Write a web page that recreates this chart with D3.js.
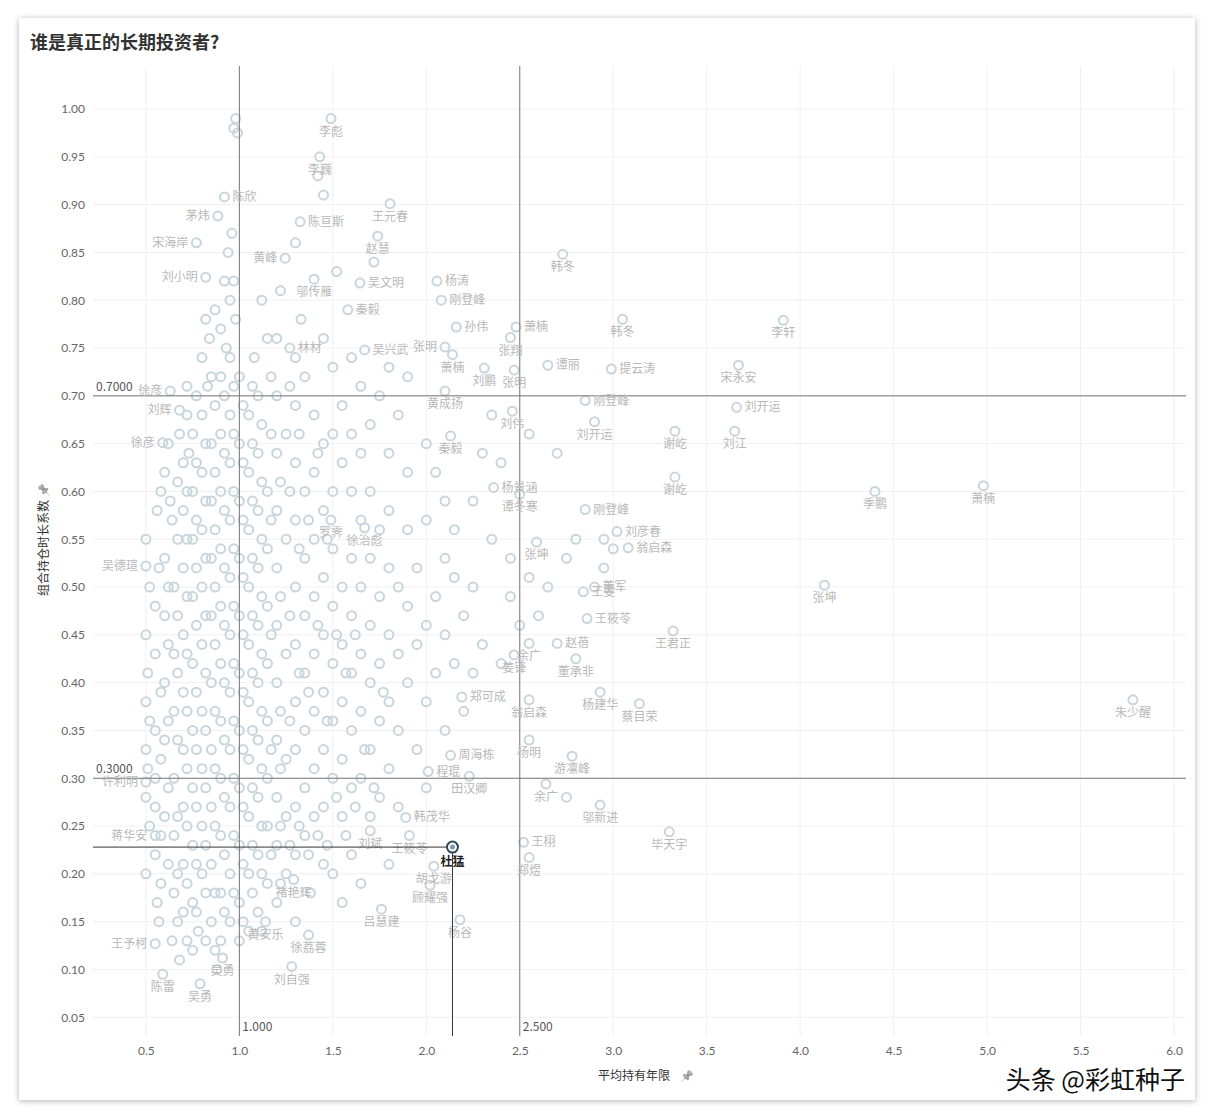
<!DOCTYPE html>
<html><head><meta charset="utf-8">
<script src="https://cdn.jsdelivr.net/npm/d3@7"></script>
<style>
body{margin:0;background:#fff;font-family:"Noto Sans CJK SC","Noto Sans",sans-serif;}
.pin{filter:grayscale(1);opacity:.6}
</style></head><body>
<svg id="c" width="1214" height="1120"></svg>
<script>
const names = ["李彪","李巍","陈欣","茅炜","宋海岸","刘小明","黄峰","陈亘斯","王元春","赵慧","邬传雁","吴文明","杨涛","刚登峰","秦毅","孙伟","林材","吴兴武","张明","萧楠","张翔","萧楠","韩冬","韩冬","李轩","提云涛","宋永安","刘开运","刘江","谢屹","谢屹","季鹏","萧楠","刘鹏","张明","谭丽","刚登峰","刘伟","黄成扬","刘开运","秦毅","杨景涵","谭冬寒","刚登峰","刘彦春","翁启森","张坤","张坤","王君正","王筱苓","王雯","董军","赵蓓","姜锋","余广","董承非","郑可成","杨建华","蔡目荣","翁启森","朱少醒","周海栋","杨明","游凛峰","程琨","田汉卿","余广","邬新进","韩茂华","王栩","毕天宇","郑煜","刘斌","王筱苓","胡戈游","顾耀强","杨谷","吕慧建","褚艳辉","黄安乐","徐荔蓉","刘自强","吴勇","吴勇","陈雷","王予柯","蒋华安","许利明","吴德瑄","徐彦","刘辉","徐彦","罗霁","徐治彪"];
const xs = [1.49,1.43,0.92,0.885,0.77,0.82,1.245,1.325,1.806,1.74,1.40,1.645,2.057,2.08,1.58,2.16,1.27,1.67,2.10,2.14,2.45,2.48,2.73,3.05,3.91,2.99,3.67,3.66,3.65,3.33,3.33,4.40,4.98,2.31,2.47,2.65,2.85,2.46,2.10,2.90,2.13,2.36,2.50,2.85,3.02,3.08,2.59,4.13,3.32,2.86,2.84,2.90,2.70,2.47,2.55,2.80,2.19,2.93,3.14,2.55,5.78,2.13,2.55,2.78,2.01,2.23,2.64,2.93,1.89,2.52,3.30,2.55,1.70,1.91,2.04,2.02,2.18,1.76,1.29,1.14,1.37,1.28,0.91,0.79,0.59,0.55,0.55,0.50,0.50,0.63,0.68,0.59,1.49,1.67];
const ys = [0.99,0.95,0.908,0.888,0.86,0.824,0.844,0.882,0.901,0.867,0.822,0.818,0.820,0.80,0.79,0.772,0.75,0.748,0.751,0.743,0.761,0.772,0.848,0.78,0.779,0.728,0.732,0.688,0.663,0.663,0.615,0.60,0.606,0.729,0.727,0.732,0.695,0.684,0.705,0.673,0.658,0.604,0.597,0.581,0.558,0.541,0.547,0.502,0.454,0.467,0.495,0.50,0.441,0.429,0.441,0.425,0.385,0.39,0.378,0.382,0.382,0.324,0.34,0.323,0.307,0.302,0.294,0.272,0.259,0.233,0.244,0.217,0.245,0.24,0.208,0.188,0.152,0.163,0.194,0.15,0.136,0.103,0.112,0.085,0.095,0.127,0.24,0.296,0.522,0.705,0.685,0.651,0.57,0.562];
const sides = ["b","b","r","l","l","l","l","r","b","b","b","r","r","r","r","r","r","r","l","b","b","r","b","b","b","r","b","r","b","b","b","b","b","b","b","r","r","b","b","b","b","r","b","r","r","r","b","b","b","r","r","r","r","b","b","b","r","b","b","b","b","r","b","b","r","b","b","b","r","r","b","b","b","b","b","b","b","b","b","b","b","b","b","b","b","l","l","l","l","l","l","l","b","b"];
const hiName = "杜猛", hiX = 2.14, hiY = 0.228;
const others = "0.5,0.2;0.52,0.25;0.5,0.28;0.51,0.31;0.5,0.33;0.52,0.36;0.5,0.38;0.51,0.41;0.5,0.45;0.52,0.5;0.5,0.55;0.56,0.58;0.58,0.6;0.6,0.62;0.55,0.3;0.57,0.15;0.56,0.17;0.55,0.22;0.58,0.19;0.6,0.26;0.6,0.34;0.6,0.4;0.6,0.47;0.6,0.53;0.62,0.65;0.64,0.57;0.65,0.5;0.65,0.43;0.65,0.37;0.65,0.3;0.65,0.24;0.65,0.18;0.64,0.13;0.68,0.11;0.7,0.16;0.7,0.21;0.7,0.27;0.7,0.33;0.7,0.39;0.7,0.45;0.7,0.52;0.7,0.58;0.7,0.63;0.72,0.68;0.72,0.71;0.75,0.66;0.75,0.6;0.75,0.55;0.75,0.49;0.75,0.42;0.75,0.35;0.75,0.29;0.75,0.23;0.75,0.17;0.75,0.12;0.78,0.14;0.8,0.2;0.8,0.25;0.8,0.31;0.8,0.37;0.8,0.44;0.8,0.5;0.8,0.56;0.8,0.62;0.8,0.68;0.8,0.74;0.82,0.78;0.85,0.72;0.85,0.65;0.85,0.59;0.85,0.53;0.85,0.47;0.85,0.4;0.85,0.33;0.85,0.27;0.85,0.21;0.85,0.15;0.88,0.1;0.9,0.13;0.9,0.18;0.9,0.24;0.9,0.3;0.9,0.36;0.9,0.42;0.9,0.48;0.9,0.54;0.9,0.6;0.9,0.66;0.9,0.72;0.9,0.77;0.92,0.82;0.94,0.85;0.95,0.8;0.95,0.74;0.95,0.68;0.95,0.63;0.95,0.57;0.95,0.51;0.95,0.45;0.95,0.39;0.95,0.33;0.95,0.27;0.95,0.2;0.95,0.15;0.97,0.98;0.98,0.99;0.99,0.975;0.96,0.87;0.98,0.78;1.0,0.72;1.0,0.65;1.0,0.59;1.0,0.53;1.0,0.47;1.0,0.41;1.0,0.35;1.0,0.29;1.0,0.23;1.0,0.17;1.0,0.13;1.05,0.14;1.05,0.2;1.05,0.26;1.05,0.32;1.05,0.38;1.05,0.44;1.05,0.5;1.05,0.56;1.05,0.62;1.05,0.68;1.08,0.74;1.1,0.7;1.1,0.64;1.1,0.58;1.1,0.52;1.1,0.46;1.1,0.4;1.1,0.34;1.1,0.28;1.1,0.22;1.1,0.16;1.12,0.8;1.15,0.76;1.15,0.6;1.15,0.54;1.15,0.48;1.15,0.42;1.15,0.36;1.15,0.3;1.15,0.25;1.15,0.19;1.2,0.17;1.2,0.23;1.2,0.28;1.2,0.34;1.2,0.4;1.2,0.46;1.2,0.52;1.2,0.58;1.2,0.64;1.2,0.7;1.2,0.76;1.22,0.81;1.25,0.66;1.25,0.55;1.25,0.43;1.25,0.32;1.25,0.26;1.25,0.2;1.3,0.15;1.3,0.22;1.3,0.27;1.3,0.33;1.3,0.38;1.3,0.44;1.3,0.5;1.3,0.57;1.3,0.63;1.3,0.69;1.3,0.74;1.3,0.86;1.33,0.78;1.35,0.72;1.35,0.6;1.35,0.53;1.35,0.47;1.35,0.41;1.35,0.35;1.35,0.29;1.35,0.24;1.38,0.18;1.4,0.26;1.4,0.31;1.4,0.37;1.4,0.43;1.4,0.49;1.4,0.55;1.4,0.62;1.4,0.68;1.42,0.93;1.45,0.91;1.45,0.76;1.45,0.65;1.45,0.58;1.45,0.51;1.45,0.45;1.45,0.39;1.45,0.33;1.45,0.27;1.45,0.21;1.5,0.2;1.5,0.3;1.5,0.36;1.5,0.42;1.5,0.48;1.5,0.54;1.5,0.6;1.5,0.66;1.5,0.73;1.52,0.83;1.55,0.69;1.55,0.63;1.55,0.5;1.55,0.44;1.55,0.38;1.55,0.32;1.55,0.26;1.55,0.17;1.6,0.22;1.6,0.29;1.6,0.35;1.6,0.41;1.6,0.47;1.6,0.53;1.6,0.6;1.6,0.66;1.6,0.74;1.65,0.71;1.65,0.64;1.65,0.57;1.65,0.5;1.65,0.43;1.65,0.37;1.65,0.3;1.65,0.19;1.7,0.26;1.7,0.33;1.7,0.4;1.7,0.46;1.7,0.53;1.7,0.6;1.7,0.67;1.72,0.84;1.75,0.7;1.75,0.56;1.75,0.49;1.75,0.42;1.75,0.36;1.75,0.28;1.8,0.21;1.8,0.31;1.8,0.38;1.8,0.45;1.8,0.52;1.8,0.58;1.8,0.64;1.8,0.73;1.85,0.68;1.85,0.5;1.85,0.43;1.85,0.35;1.85,0.27;1.9,0.4;1.9,0.48;1.9,0.56;1.9,0.62;1.9,0.72;1.95,0.33;1.95,0.44;1.95,0.52;2.0,0.29;2.0,0.38;2.0,0.46;2.0,0.57;2.0,0.65;2.05,0.41;2.05,0.49;2.05,0.62;2.1,0.35;2.1,0.45;2.1,0.53;2.1,0.59;2.15,0.42;2.15,0.51;2.15,0.56;2.2,0.47;2.2,0.37;2.25,0.5;2.25,0.41;2.25,0.59;2.3,0.44;2.3,0.64;2.35,0.55;2.4,0.42;2.4,0.63;2.45,0.53;2.45,0.49;2.5,0.46;2.55,0.51;2.6,0.47;2.65,0.5;2.7,0.64;2.75,0.53;2.8,0.55;2.95,0.52;3.0,0.54;2.75,0.28;2.95,0.55;2.55,0.66;2.35,0.68";
const others2 = "0.55,0.27;0.55,0.35;0.55,0.43;0.55,0.48;0.57,0.52;0.58,0.24;0.58,0.32;0.58,0.39;0.62,0.21;0.62,0.29;0.62,0.36;0.62,0.44;0.62,0.5;0.63,0.59;0.67,0.15;0.67,0.2;0.67,0.26;0.67,0.34;0.67,0.41;0.67,0.47;0.67,0.55;0.67,0.61;0.68,0.66;0.72,0.13;0.72,0.19;0.72,0.25;0.72,0.31;0.72,0.37;0.72,0.43;0.72,0.49;0.72,0.55;0.72,0.6;0.73,0.64;0.77,0.7;0.77,0.63;0.77,0.57;0.77,0.52;0.77,0.46;0.77,0.39;0.77,0.33;0.77,0.27;0.77,0.21;0.77,0.16;0.82,0.13;0.82,0.18;0.82,0.23;0.82,0.29;0.82,0.35;0.82,0.41;0.82,0.47;0.82,0.53;0.82,0.59;0.82,0.65;0.83,0.71;0.84,0.76;0.87,0.79;0.87,0.69;0.87,0.62;0.87,0.56;0.87,0.5;0.87,0.44;0.87,0.37;0.87,0.31;0.87,0.25;0.87,0.18;0.87,0.12;0.92,0.16;0.92,0.22;0.92,0.28;0.92,0.34;0.92,0.4;0.92,0.46;0.92,0.52;0.92,0.58;0.92,0.64;0.92,0.7;0.93,0.75;0.97,0.82;0.97,0.71;0.97,0.66;0.97,0.6;0.97,0.54;0.97,0.48;0.97,0.42;0.97,0.36;0.97,0.3;0.97,0.24;0.97,0.18;1.02,0.15;1.02,0.21;1.02,0.27;1.02,0.33;1.02,0.39;1.02,0.45;1.02,0.51;1.02,0.57;1.02,0.63;1.02,0.69;1.07,0.71;1.07,0.65;1.07,0.59;1.07,0.53;1.07,0.47;1.07,0.41;1.07,0.35;1.07,0.29;1.07,0.23;1.07,0.18;1.12,0.14;1.12,0.2;1.12,0.25;1.12,0.31;1.12,0.37;1.12,0.43;1.12,0.49;1.12,0.55;1.12,0.61;1.12,0.67;1.17,0.72;1.17,0.66;1.17,0.57;1.17,0.45;1.17,0.33;1.17,0.22;1.22,0.19;1.22,0.25;1.22,0.31;1.22,0.37;1.22,0.49;1.22,0.61;1.27,0.71;1.27,0.6;1.27,0.47;1.27,0.36;1.27,0.23;1.32,0.25;1.32,0.41;1.32,0.54;1.32,0.66;1.37,0.22;1.37,0.39;1.37,0.57;1.42,0.24;1.42,0.46;1.42,0.64;1.47,0.23;1.47,0.36;1.47,0.55;1.52,0.28;1.52,0.45;1.57,0.24;1.57,0.41;1.62,0.27;1.62,0.45;1.67,0.33;1.72,0.29;1.77,0.39";
const xTicks = [0.5,1.0,1.5,2.0,2.5,3.0,3.5,4.0,4.5,5.0,5.5,6.0];
const yTicks = [0.05,0.10,0.15,0.20,0.25,0.30,0.35,0.40,0.45,0.50,0.55,0.60,0.65,0.70,0.75,0.80,0.85,0.90,0.95,1.00];
const refX = [1.0,2.5], refY = [0.70,0.30];

const svg = d3.select("#c");
const defs = svg.append("defs");
const f = defs.append("filter").attr("id","sh").attr("x","-5%").attr("y","-5%").attr("width","110%").attr("height","110%");
f.append("feDropShadow").attr("dx",0).attr("dy",1).attr("stdDeviation",3).attr("flood-color","#000").attr("flood-opacity",0.3);
svg.append("rect").attr("x",19).attr("y",18).attr("width",1176).attr("height",1082).attr("fill","#fff").attr("filter","url(#sh)");
svg.append("text").attr("x",30).attr("y",49).text("谁是真正的长期投资者?").attr("font-size",18).attr("font-weight","bold").attr("fill","#333");

const L=93,R=1186,T=66,B=1036;
const x = d3.scaleLinear().domain([0.217,6.064]).range([L,R]);
const y = d3.scaleLinear().domain([0.0304,1.045]).range([B,T]);
const g = svg.append("g");
g.selectAll(".gx").data(xTicks).join("line").attr("x1",d=>x(d)).attr("x2",d=>x(d)).attr("y1",T).attr("y2",B).attr("stroke","#f0f0f0");
g.selectAll(".gy").data(yTicks).join("line").attr("y1",d=>y(d)).attr("y2",d=>y(d)).attr("x1",L).attr("x2",R).attr("stroke","#f0f0f0");
const ax = svg.append("g").attr("transform",`translate(0,${B})`).call(d3.axisBottom(x).tickValues(xTicks).tickFormat(d3.format(".1f")).tickSize(0).tickPadding(10));
const ay = svg.append("g").attr("transform",`translate(${L},0)`).call(d3.axisLeft(y).tickValues(yTicks).tickFormat(d3.format(".2f")).tickSize(0).tickPadding(8));
[ax,ay].forEach(a=>{a.select(".domain").remove();a.selectAll("text").attr("fill","#666").attr("font-size",12).attr("font-family","Lato, sans-serif");});

const pts = others.split(";").concat(others2.split(";")).map(s=>s.split(",").map(Number));
const pg = svg.append("g").attr("fill","none").attr("stroke","#c8d5dd").attr("stroke-width",2);
pg.selectAll("circle.o").data(pts).join("circle").attr("cx",d=>x(d[0])).attr("cy",d=>y(d[1])).attr("r",4.5);
pg.selectAll("circle.l").data(xs).join("circle").attr("cx",d=>x(d)).attr("cy",(d,i)=>y(ys[i])).attr("r",4.5);

refX.forEach(v=>svg.append("line").attr("x1",x(v)).attr("x2",x(v)).attr("y1",T).attr("y2",B).attr("stroke","#777").attr("stroke-width",1));
refY.forEach(v=>svg.append("line").attr("y1",y(v)).attr("y2",y(v)).attr("x1",L).attr("x2",R).attr("stroke","#777").attr("stroke-width",1));
refX.forEach(v=>svg.append("text").attr("x",x(v)+3).attr("y",B-5).text(d3.format(".3f")(v)).attr("font-size",12).attr("fill","#555"));
refY.forEach(v=>svg.append("text").attr("x",L+3).attr("y",y(v)-5).text(d3.format(".4f")(v)).attr("font-size",12).attr("fill","#555"));

const lg = svg.append("g").attr("font-size",12).attr("fill","#b8b8b8");
names.forEach((n,i)=>{
  const s=sides[i], px=x(xs[i]), py=y(ys[i]);
  const t=lg.append("text").text(n);
  if(s==="b") t.attr("x",px).attr("y",py+17).attr("text-anchor","middle");
  else if(s==="r") t.attr("x",px+8).attr("y",py+4);
  else t.attr("x",px-8).attr("y",py+4).attr("text-anchor","end");
});

svg.append("line").attr("x1",L).attr("x2",x(hiX)).attr("y1",y(hiY)).attr("y2",y(hiY)).attr("stroke","#333");
svg.append("line").attr("x1",x(hiX)).attr("x2",x(hiX)).attr("y1",y(hiY)).attr("y2",B).attr("stroke","#333");
svg.append("circle").attr("cx",x(hiX)).attr("cy",y(hiY)).attr("r",5.5).attr("fill","#fff").attr("stroke","#2d4a5a").attr("stroke-width",2);
svg.append("circle").attr("cx",x(hiX)).attr("cy",y(hiY)).attr("r",2.5).attr("fill","#7a9aaa");
svg.append("text").attr("x",x(hiX)).attr("y",y(hiY)+19).attr("text-anchor","middle").text(hiName).attr("font-size",12).attr("font-weight","bold").attr("fill","#222");

svg.append("text").attr("x",634).attr("y",1080).attr("text-anchor","middle").text("平均持有年限").attr("font-size",12).attr("fill","#333");
svg.append("text").attr("x",680).attr("y",1080).text("📌").attr("font-size",11).attr("class","pin");
svg.append("text").attr("transform","translate(48,548) rotate(-90)").attr("text-anchor","middle").text("组合持仓时长系数").attr("font-size",12).attr("fill","#333");
svg.append("text").attr("transform","translate(48,497) rotate(-90)").text("📌").attr("font-size",11).attr("class","pin");
svg.append("text").attr("x",1185).attr("y",1089).attr("text-anchor","end").text("头条 @彩虹种子").attr("font-size",25).attr("fill","#111").attr("stroke","#fff").attr("stroke-width",3).attr("paint-order","stroke");
</script></body></html>
